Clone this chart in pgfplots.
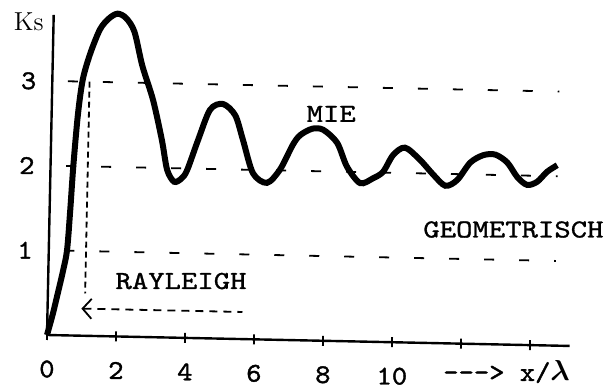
\documentclass[border=0pt]{standalone}
\usepackage{amsmath}
\usepackage{fontspec}
\usepackage{pgfplots}
\pgfplotsset{compat=1.18}
\usepackage{graphicx}
\usetikzlibrary{arrows.meta}
\newfontfamily\twfont{lmmono10-regular}[Extension=.otf, FakeBold=1.1, FakeStretch=1.2]
\newfontfamily\tlfont{lmmono10-regular}[Extension=.otf, FakeBold=1.4, FakeStretch=1.08]
\newcommand{\tw}[1]{{\twfont\fontsize{13}{15}\selectfont #1}}
\newcommand{\tl}[1]{{\tlfont\fontsize{13.5}{15}\selectfont #1}}
\begin{document}
\begin{tikzpicture}
\begin{axis}[
  rotate=-1.2,
  scale only axis,
  width=261.4pt, height=160.1pt,
  xmin=0, xmax=15.15, ymin=0, ymax=3.78,
  clip=false,
  axis x line=bottom, axis y line=left,
  axis line style={-, line width=1.2pt},
  xtick={0,2,4,6,8,10,12,14},
  xticklabels={\tl{0},\tl{2},\tl{4},\tl{6},\tl{8},\tl{10},,},
  ytick={1,2,3},
  yticklabels={\tl{1},\tl{2},\tl{3}},
  major tick length=5pt,
  tick align=center,
  xtick style={line width=0.9pt, black},
  ytick style={draw=none},
  xticklabel style={anchor=center, yshift=-14.5pt},
  yticklabel style={xshift=-2pt},
]
% dashed reference lines
\addplot[black, line width=0.9pt, dash pattern=on 5pt off 12.5pt] coordinates {(0.45,3) (14.7,3)};
\addplot[black, line width=0.9pt, dash pattern=on 5pt off 12.5pt] coordinates {(0.45,2) (14.7,2)};
\addplot[black, line width=0.9pt, dash pattern=on 5pt off 12.5pt] coordinates {(0.45,1) (14.7,1)};
% Rayleigh marker
\addplot[black, line width=0.9pt, dash pattern=on 3pt off 2pt] coordinates {(1.08,3.0) (1.08,0.5)};
% Mie curve
\addplot[black, line width=3pt, smooth, tension=0.5] coordinates {
(0,0) (0.15,0.24) (0.29,0.50) (0.42,0.75) (0.53,1.01) (0.60,1.5) (0.66,2.0)
(0.76,2.6) (0.88,3.02) (1.08,3.33) (1.35,3.62) (1.6,3.75) (1.85,3.81)
(2.1,3.76) (2.35,3.6) (2.6,3.2) (2.93,2.80) (3.21,2.33) (3.38,1.98)
(3.59,1.84) (3.8,1.88) (3.96,1.98) (4.26,2.34) (4.59,2.70) (4.96,2.77)
(5.32,2.64) (5.56,2.35) (5.87,1.96) (6.28,1.85) (6.65,2.01) (7.0,2.3)
(7.21,2.42) (7.56,2.50) (7.88,2.49) (8.29,2.34) (8.59,2.06) (8.98,1.87)
(9.35,1.93) (9.64,2.01) (9.92,2.21) (10.26,2.30) (10.70,2.16) (11.09,1.99)
(11.45,1.86) (11.79,1.93) (12.16,2.14) (12.53,2.23) (12.88,2.24) (13.23,2.15)
(13.53,1.98) (13.82,1.89) (14.11,1.93) (14.39,2.05) (14.68,2.13)
};
\draw[line width=0.9pt, dash pattern=on 4pt off 3pt, {Straight Barb[length=4.5pt,width=10pt,line width=0.9pt]}-]
  (axis cs:0.98,0.32) -- (axis cs:5.65,0.32);
\node at (axis cs:3.85,0.67) {\tw{RAYLEIGH}};
\node at (axis cs:8.1,2.68) {\tw{MIE}};
\node at (axis cs:13.45,1.36) {\tw{GEOMETRISCH}};
\node[anchor=west] at (axis cs:11.3,-0.34) {\tl{-{}-{}->\ x/}{\fontsize{13.5}{15}\selectfont$\boldsymbol{\lambda}$}};
\node[font=\rmfamily\fontsize{13}{15}\selectfont] at (axis cs:-0.72,3.69) {Ks};
\coordinate (O) at (axis cs:0,0);
\end{axis}
\pgfresetboundingbox
\path ([shift={(-23.5pt,-27.5pt)}]O) rectangle ([shift={(281.5pt,167.5pt)}]O);
\end{tikzpicture}
\end{document}
